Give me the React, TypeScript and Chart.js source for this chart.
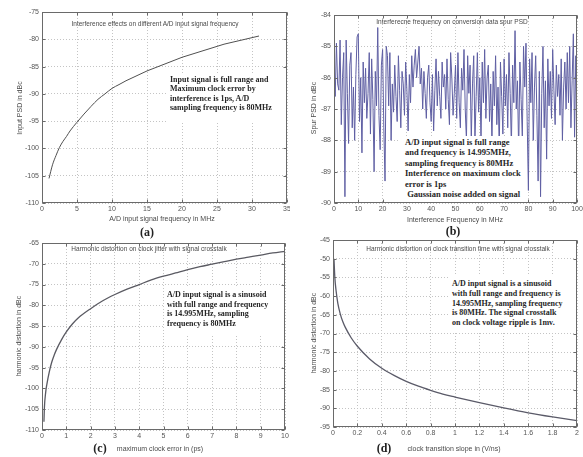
import React, { useEffect, useRef } from "react";
import { Chart, registerables } from "chart.js";

Chart.register(...registerables);

// ---------- Panel (a) ----------
const aFreq = [1, 1.5, 2, 2.5, 3, 3.5, 4, 5, 6, 7, 8, 9, 10, 11, 12, 13, 14, 15, 16, 17, 18, 19, 20, 21, 22, 23, 24, 25, 26, 27, 28, 29, 30, 31];
const aPsd = [-105.5, -103.0, -101.3, -99.8, -98.7, -97.8, -96.8, -95.2, -93.7, -92.3, -91.0, -90.0, -89.0, -88.3, -87.6, -87.0, -86.4, -85.8, -85.3, -84.8, -84.3, -83.8, -83.3, -82.9, -82.5, -82.1, -81.7, -81.3, -80.9, -80.6, -80.3, -80.0, -79.7, -79.4];
const aXAxis = [0, 35, 5];
const aYAxis = [-110, -75, 5];

// ---------- Panel (b) ---------- (sampled every 0.5 MHz from 0 to 100)
const bStep = 0.5;
const bSpur = [
  -85.4, -86.6, -84.9, -86.2, -86.4, -84.8, -87.5, -86.0, -85.2, -89.8,
  -84.8, -86.5, -88.1, -85.6, -85.2, -87.6, -86.3, -88.0, -85.9, -84.7,
  -84.6, -87.4, -86.0, -88.4, -85.5, -86.8, -85.7, -87.3, -86.5, -85.2,
  -87.8, -85.4, -86.7, -89.0, -85.8, -86.9, -84.4, -87.2, -88.3, -85.6,
  -85.1, -87.6, -89.3, -85.0, -85.3, -86.9, -85.2, -88.0, -86.2, -87.1,
  -85.6, -86.6, -87.4, -85.3, -86.4, -87.6, -85.8, -86.2, -87.2, -85.5,
  -86.4, -87.7, -85.9, -86.8, -85.3, -86.3, -85.6, -85.1, -86.0, -85.5,
  -85.0, -86.2, -85.7, -87.0, -85.8, -86.5, -87.3, -86.0, -85.6, -86.8,
  -87.4, -85.9, -87.7, -86.4, -85.4, -86.9, -85.8, -86.6, -87.3, -85.5,
  -86.3, -85.9, -87.0, -85.4, -86.7, -87.5, -85.2, -86.0, -87.2, -86.5,
  -85.6, -87.3, -85.2, -86.8, -87.6, -85.7, -86.4, -85.1, -87.0, -88.0,
  -85.3, -86.5, -85.6, -88.0, -86.2, -85.3, -88.0, -86.6, -85.2, -87.1,
  -86.0, -88.0, -85.5, -86.8, -85.1, -87.3, -86.0, -85.6, -87.4, -86.2,
  -88.1, -85.8, -86.9, -85.3, -87.5, -86.3, -88.3, -85.5, -86.6, -87.8,
  -85.4, -86.9, -85.9, -87.6, -85.2, -86.5, -88.2, -85.6, -86.8, -84.5,
  -87.0, -86.1, -88.4, -85.5, -86.7, -87.9, -85.0, -86.3, -84.9, -87.4,
  -89.6, -85.4, -86.8, -85.2, -88.0, -86.3, -85.3, -87.2, -89.3, -85.8,
  -89.8, -86.5, -85.0, -87.6, -86.1, -88.6, -85.4, -86.9, -85.8, -87.3,
  -85.1, -86.4, -87.5, -85.6, -86.6, -85.9, -87.2, -85.4, -88.0, -86.3,
  -85.5, -87.0, -85.2, -86.8, -85.0, -87.6, -86.1, -84.6, -87.9, -85.3,
  -86.8,
];
const bXAxis = [0, 100, 10];
const bYAxis = [-90, -84, 1];

// ---------- Panel (c) ----------
const cErr = [0.08, 0.1, 0.15, 0.2, 0.3, 0.4, 0.5, 0.6, 0.8, 1, 1.25, 1.5, 2, 2.5, 3, 3.5, 4, 4.5, 5, 5.5, 6, 6.5, 7, 7.5, 8, 8.5, 9, 9.5, 10];
const cHd = [-108, -104.5, -101, -99, -96, -93.7, -92, -90.6, -88.3, -86.4, -84.5, -83, -80.8, -78.9, -77.4, -76.1, -75, -73.9, -73, -72.2, -71.4, -70.7, -70.1, -69.5, -68.9, -68.4, -67.9, -67.4, -67.0];
const cXAxis = [0, 10, 1];
const cYAxis = [-110, -65, 5];

// ---------- Panel (d) ----------
const dSlope = [0.008, 0.015, 0.025, 0.04, 0.06, 0.08, 0.1, 0.15, 0.2, 0.3, 0.4, 0.5, 0.6, 0.7, 0.8, 0.9, 1.0, 1.2, 1.4, 1.6, 1.8, 2.0];
const dHd = [-50, -55, -58.5, -62, -64.8, -66.8, -68.3, -71.2, -73.4, -76.8, -79.3, -81.2, -82.8, -84.1, -85.2, -86.2, -87.0, -88.5, -89.9, -91.2, -92.3, -93.3];
const dXAxis = [0, 2, 0.2];
const dYAxis = [-95, -45, 5];

const SANS = "'Liberation Sans', Arial, Helvetica, sans-serif";
const SERIF = "'Liberation Serif', 'Times New Roman', serif";
const XH = 14;

type Box = { x: number; y: number; w: number; h: number };
type Plot = { L: number; T: number; R: number; B: number };

const boxPlugin = {
  id: "mbox",
  afterDatasetsDraw(chart: any) {
    const { ctx, chartArea } = chart;
    const { left, top, right, bottom } = chartArea;
    const xs = chart.scales.x;
    const ys = chart.scales.y;
    ctx.save();
    ctx.strokeStyle = "#6a6a6a";
    ctx.lineWidth = 1;
    const l = Math.round(left) + 0.5;
    const t = Math.round(top) + 0.5;
    const r = Math.round(right) - 0.5;
    const b = Math.round(bottom) - 0.5;
    ctx.strokeRect(l, t, r - l, b - t);
    ctx.beginPath();
    xs.ticks.forEach((tk: any) => {
      const px = Math.round(xs.getPixelForValue(tk.value)) + 0.5;
      ctx.moveTo(px, b);
      ctx.lineTo(px, b - 3);
      ctx.moveTo(px, t);
      ctx.lineTo(px, t + 3);
    });
    ys.ticks.forEach((tk: any) => {
      const py = Math.round(ys.getPixelForValue(tk.value)) + 0.5;
      ctx.moveTo(l, py);
      ctx.lineTo(l + 3, py);
      ctx.moveTo(r, py);
      ctx.lineTo(r - 3, py);
    });
    ctx.stroke();
    ctx.restore();
  },
};

function fmt(v: number) {
  return String(Number(v.toFixed(2)));
}

function Panel(props: {
  box: Box;
  plot: Plot;
  xs: number[];
  ys: number[];
  xAxis: number[];
  yAxis: number[];
  color: string;
  width: number;
  smooth: boolean;
}) {
  const ref = useRef<HTMLCanvasElement | null>(null);
  const { box, plot, xs, ys, xAxis, yAxis, color, width, smooth } = props;
  useEffect(() => {
    if (!ref.current) return;
    const tickFont = { family: SANS, size: 7 };
    const chart = new Chart(ref.current, {
      type: "line",
      data: {
        datasets: [
          {
            data: xs.map((x, i) => ({ x, y: ys[i] })),
            borderColor: color,
            borderWidth: width,
            pointRadius: 0,
            fill: false,
            cubicInterpolationMode: smooth ? "monotone" : "default",
            tension: 0,
          },
        ],
      },
      options: {
        responsive: false,
        animation: false,
        events: [],
        layout: {
          padding: {
            left: 0,
            top: plot.T - box.y,
            right: box.x + box.w - plot.R,
            bottom: box.y + box.h - plot.B - XH,
          },
        },
        plugins: { legend: { display: false }, tooltip: { enabled: false }, title: { display: false } },
        scales: {
          x: {
            type: "linear",
            min: xAxis[0],
            max: xAxis[1],
            ticks: {
              stepSize: xAxis[2],
              color: "#555",
              font: tickFont,
              padding: 2,
              maxRotation: 0,
              autoSkip: false,
              callback: (v: any) => fmt(Number(v)),
            },
            grid: { color: "#c4c4c4", drawTicks: false, lineWidth: 1 },
            border: { display: false, dash: [1, 2] },
            afterFit: (s: any) => {
              s.height = XH;
              s.paddingLeft = 0;
              s.paddingRight = 0;
            },
          },
          y: {
            type: "linear",
            min: yAxis[0],
            max: yAxis[1],
            ticks: {
              stepSize: yAxis[2],
              color: "#555",
              font: tickFont,
              padding: 3,
              autoSkip: false,
              callback: (v: any) => fmt(Number(v)),
            },
            grid: { color: "#c4c4c4", drawTicks: false, lineWidth: 1 },
            border: { display: false, dash: [1, 2] },
            afterFit: (s: any) => {
              s.width = plot.L - box.x;
              s.paddingTop = 0;
              s.paddingBottom = 0;
            },
          },
        },
      } as any,
      plugins: [boxPlugin],
    });
    return () => chart.destroy();
  }, []);
  return (
    <canvas
      ref={ref}
      width={box.w}
      height={box.h}
      style={{ position: "absolute", left: box.x, top: box.y, width: box.w, height: box.h }}
    />
  );
}

function Txt(props: {
  x: number;
  y: number;
  text: string;
  size: number;
  rot?: boolean;
  color?: string;
}) {
  const { x, y, text, size, rot, color } = props;
  return (
    <div
      style={{
        position: "absolute",
        left: x,
        top: y,
        transform: `translate(-50%, -50%)${rot ? " rotate(-90deg)" : ""}`,
        fontFamily: SANS,
        fontSize: size,
        color: color || "#4a4a4a",
        whiteSpace: "pre",
        lineHeight: 1,
      }}
    >
      {text}
    </div>
  );
}

function Note(props: { x: number; y: number; lines: string[]; size: number; lh: number }) {
  return (
    <div
      style={{
        position: "absolute",
        left: props.x,
        top: props.y,
        fontFamily: SERIF,
        fontWeight: "bold",
        fontSize: props.size,
        lineHeight: props.lh + "px",
        color: "#262626",
        whiteSpace: "pre",
      }}
    >
      {props.lines.map((l, i) => (
        <div key={i}>{l}</div>
      ))}
    </div>
  );
}

function WhiteBox(props: { x: number; y: number; w: number; h: number }) {
  return (
    <div
      style={{ position: "absolute", left: props.x, top: props.y, width: props.w, height: props.h, background: "#fff" }}
    />
  );
}

function Label(props: { x: number; y: number; text: string }) {
  return (
    <div
      style={{
        position: "absolute",
        left: props.x,
        top: props.y,
        transform: "translate(-50%, -50%)",
        fontFamily: SERIF,
        fontWeight: "bold",
        fontSize: 12,
        color: "#222",
        lineHeight: 1,
      }}
    >
      {props.text}
    </div>
  );
}

const bFreq = bSpur.map((_, i) => i * bStep);

export default function App() {
  return (
    <div
      style={{
        position: "absolute",
        left: 0,
        top: 0,
        width: 583,
        height: 457,
        background: "#fff",
        overflow: "hidden",
      }}
    >
      <Panel box={{ x: 0, y: 0, w: 290, h: 225 }} plot={{ L: 42, T: 12, R: 287, B: 203 }} xs={aFreq} ys={aPsd} xAxis={aXAxis} yAxis={aYAxis} color="#505050" width={1} smooth={true} />
      <Panel box={{ x: 290, y: 0, w: 293, h: 225 }} plot={{ L: 334, T: 15, R: 577, B: 203 }} xs={bFreq} ys={bSpur} xAxis={bXAxis} yAxis={bYAxis} color="#5f5fa3" width={1} smooth={false} />
      <Panel box={{ x: 0, y: 232, w: 290, h: 218 }} plot={{ L: 42, T: 243, R: 285, B: 430 }} xs={cErr} ys={cHd} xAxis={cXAxis} yAxis={cYAxis} color="#5a5a62" width={1.3} smooth={true} />
      <Panel box={{ x: 290, y: 232, w: 293, h: 218 }} plot={{ L: 333, T: 240, R: 577, B: 427 }} xs={dSlope} ys={dHd} xAxis={dXAxis} yAxis={dYAxis} color="#5a5a68" width={1.3} smooth={true} />

      <WhiteBox x={168} y={73} w={118} h={50} />
      <WhiteBox x={399} y={136} w={128} h={66} />
      <WhiteBox x={165} y={287} w={119} h={49} />
      <WhiteBox x={448} y={275} w={128} h={58} />

      <Txt x={155} y={24} size={6.5} text="Interference effects on different A/D input signal frequency" />
      <Txt x={452} y={22} size={6.5} text="Interferecne frequency on conversion data spur PSD" />
      <Txt x={149} y={249} size={6.5} text="Harmonic distortion on clock jitter with signal crosstalk" />
      <Txt x={458} y={249} size={6.5} text="Harmonic distortion on clock transition time with signal crosstalk" />

      <Txt x={162} y={218} size={7} text="A/D input signal frequency in MHz" />
      <Txt x={455} y={219} size={7} text="Interference Frequency in MHz" />
      <Txt x={160} y={448} size={7} text="maximum clock error in (ps)" />
      <Txt x={454} y={448} size={7} text="clock transition slope in (V/ns)" />

      <Txt x={19} y={108} size={7} rot text="Input PSD in dBc" />
      <Txt x={313} y={108} size={7} rot text="Spur PSD in dBc" />
      <Txt x={18} y={336} size={7} rot text="harmonic distortion in dBc" />
      <Txt x={313} y={333} size={7} rot text="harmonic distortion in dBc" />

      <Note x={170} y={75} size={8} lh={9.4} lines={["Input signal is full range and", "Maximum clock error by", "interference is 1ps, A/D", "sampling frequency is 80MHz"]} />
      <Note x={405} y={137} size={8.5} lh={10.4} lines={["A/D input signal is full range", "and frequency is 14.995MHz,", "sampling frequency is 80MHz", "Interference on maximum clock", "error is 1ps", " Gaussian noise added on signal"]} />
      <Note x={167} y={290} size={8} lh={9.5} lines={["A/D input signal is a sinusoid", "with full range and frequency", "is 14.995MHz, sampling", "frequency is 80MHz"]} />
      <Note x={452} y={279} size={8} lh={9.8} lines={["A/D input signal is a sinusoid", "with full range and frequency is", "14.995MHz, sampling frequency", "is 80MHz. The signal crosstalk", "on clock voltage ripple is 1mv."]} />

      <Label x={147} y={232} text="(a)" />
      <Label x={453} y={231} text="(b)" />
      <Label x={100} y={448} text="(c)" />
      <Label x={384} y={448} text="(d)" />
    </div>
  );
}
